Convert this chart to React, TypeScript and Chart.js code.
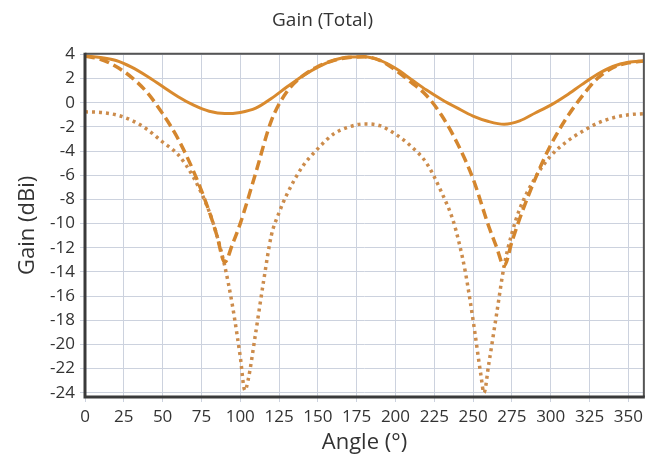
import React, { useEffect, useRef } from "react";
import { Chart, registerables } from "chart.js";

Chart.register(...registerables);

const chartTitle = "Gain (Total)";
const xTitle = "Angle (°)";
const yTitle = "Gain (dBi)";

const xTicks = [0, 25, 50, 75, 100, 125, 150, 175, 200, 225, 250, 275, 300, 325, 350];
const yTicks = [-24, -22, -20, -18, -16, -14, -12, -10, -8, -6, -4, -2, 0, 2, 4];

const solidAngles = [0, 10, 20, 30, 40, 50, 60, 70, 80, 90, 100, 110, 120, 130, 140, 150, 160, 170, 180, 190, 200, 210, 220, 230, 240, 250, 260, 270, 280, 290, 300, 310, 320, 330, 340, 350, 360];
const solidGain = [3.85, 3.75, 3.5, 2.95, 2.2, 1.35, 0.5, -0.2, -0.7, -0.9, -0.8, -0.45, 0.35, 1.3, 2.2, 2.95, 3.5, 3.78, 3.8, 3.5, 2.85, 1.95, 1.05, 0.25, -0.45, -1.1, -1.55, -1.78, -1.5, -0.85, -0.2, 0.6, 1.5, 2.35, 3.0, 3.35, 3.45];

const dashedAngles = [0, 10, 20, 30, 40, 50, 60, 70, 80, 85, 90, 95, 100, 110, 120, 130, 140, 150, 160, 170, 180, 190, 200, 210, 220, 230, 240, 250, 260, 265, 270, 275, 280, 290, 300, 310, 320, 330, 340, 350, 360];
const dashedGain = [3.85, 3.6, 3.0, 2.1, 0.85, -0.9, -3.0, -5.7, -9.0, -11.0, -13.2, -11.7, -10.0, -5.8, -1.5, 0.9, 2.2, 3.0, 3.5, 3.75, 3.8, 3.5, 2.7, 1.7, 0.6, -1.1, -3.4, -6.3, -10.2, -11.9, -13.5, -11.5, -9.6, -6.3, -3.5, -1.3, 0.5, 2.0, 2.9, 3.3, 3.45];

const dottedAngles = [0, 10, 20, 30, 40, 50, 60, 70, 80, 85, 90, 95, 100, 103, 105, 110, 115, 120, 125, 130, 140, 150, 160, 170, 180, 190, 200, 210, 220, 230, 237, 241, 245, 250, 255, 257, 260, 265, 270, 275, 280, 290, 300, 310, 320, 330, 340, 350, 360];
const dottedGain = [-0.75, -0.8, -1.0, -1.45, -2.2, -3.25, -4.3, -6.2, -9.0, -11.0, -13.5, -16.8, -21.0, -23.8, -23.0, -19.0, -14.8, -11.0, -9.1, -7.6, -5.3, -3.8, -2.6, -2.0, -1.75, -1.9, -2.6, -3.6, -5.0, -7.5, -9.7, -11.6, -14.0, -18.0, -22.5, -24.0, -21.7, -17.6, -13.5, -10.8, -8.8, -6.2, -4.4, -3.25, -2.4, -1.7, -1.25, -1.0, -0.9];

const toPoints = (xs: number[], ys: number[]) => xs.map((x, i) => ({ x, y: ys[i] }));

const FONT = "'Open Sans', 'Noto Sans', sans-serif";

const borderPlugin = {
  id: "plotBorder",
  afterDatasetsDraw(chart: any) {
    const { ctx, chartArea } = chart;
    const { left, top, right, bottom } = chartArea;
    ctx.save();
    ctx.strokeStyle = "#555";
    ctx.lineWidth = 2;
    ctx.beginPath();
    ctx.moveTo(left, top);
    ctx.lineTo(right, top);
    ctx.lineTo(right, bottom);
    ctx.stroke();
    ctx.strokeStyle = "#3a3a3a";
    ctx.lineWidth = 3;
    ctx.beginPath();
    ctx.moveTo(left, top - 1);
    ctx.lineTo(left, bottom);
    ctx.lineTo(right + 1, bottom);
    ctx.stroke();
    ctx.restore();
  },
};

export default function App() {
  const ref = useRef<HTMLCanvasElement | null>(null);

  useEffect(() => {
    if (!ref.current) return;
    const chart = new Chart(ref.current, {
      type: "line",
      data: {
        datasets: [
          {
            label: "Total",
            data: toPoints(solidAngles, solidGain),
            borderColor: "#d98a2e",
            borderWidth: 3,
            pointRadius: 0,
            cubicInterpolationMode: "monotone",
          },
          {
            label: "Dashed",
            data: toPoints(dashedAngles, dashedGain),
            borderColor: "#d4862e",
            borderWidth: 3.5,
            borderDash: [10, 5],
            pointRadius: 0,
            cubicInterpolationMode: "monotone",
          },
          {
            label: "Dotted",
            data: toPoints(dottedAngles, dottedGain),
            borderColor: "#cc8c4c",
            borderWidth: 3.5,
            borderDash: [3, 4],
            pointRadius: 0,
            cubicInterpolationMode: "monotone",
          },
        ],
      },
      options: {
        responsive: false,
        animation: false,
        layout: { padding: { right: 3, left: 0, top: 0, bottom: 0 } },
        plugins: {
          legend: { display: false },
          tooltip: { enabled: false },
          title: {
            display: true,
            text: chartTitle,
            color: "#333",
            font: { family: FONT, size: 19, weight: "normal" },
            padding: { top: 9, bottom: 22 },
          },
        },
        scales: {
          x: {
            type: "linear",
            min: 0,
            max: 360,
            afterBuildTicks: (s: any) => {
              s.ticks = xTicks.map((v) => ({ value: v }));
            },
            afterFit: (s: any) => {
              s.height = 67;
            },
            grid: { color: "#ccd2de", lineWidth: 1, tickLength: 5 },
            border: { display: false },
            ticks: {
              color: "#333",
              padding: 5,
              maxRotation: 0,
              autoSkip: false,
              font: { family: FONT, size: 17 },
            },
            title: {
              display: true,
              text: xTitle,
              color: "#333",
              font: { family: FONT, size: 22 },
              padding: { top: 0, bottom: 8 },
            },
          },
          y: {
            type: "linear",
            min: -24.35,
            max: 4.05,
            afterBuildTicks: (s: any) => {
              s.ticks = yTicks.map((v) => ({ value: v }));
            },
            afterFit: (s: any) => {
              s.width = 85;
            },
            grid: { color: "#ccd2de", lineWidth: 1, tickLength: 5 },
            border: { display: false },
            ticks: {
              color: "#333",
              padding: 5,
              autoSkip: false,
              font: { family: FONT, size: 17 },
            },
            title: {
              display: true,
              text: yTitle,
              color: "#333",
              font: { family: FONT, size: 22 },
              padding: { top: 15, bottom: 0 },
            },
          },
        },
      },
      plugins: [borderPlugin],
    });
    return () => chart.destroy();
  }, []);

  return (
    <div style={{ position: "absolute", left: 0, top: 0, width: 648, height: 464, background: "#fff" }}>
      <canvas ref={ref} width={648} height={464} />
    </div>
  );
}
